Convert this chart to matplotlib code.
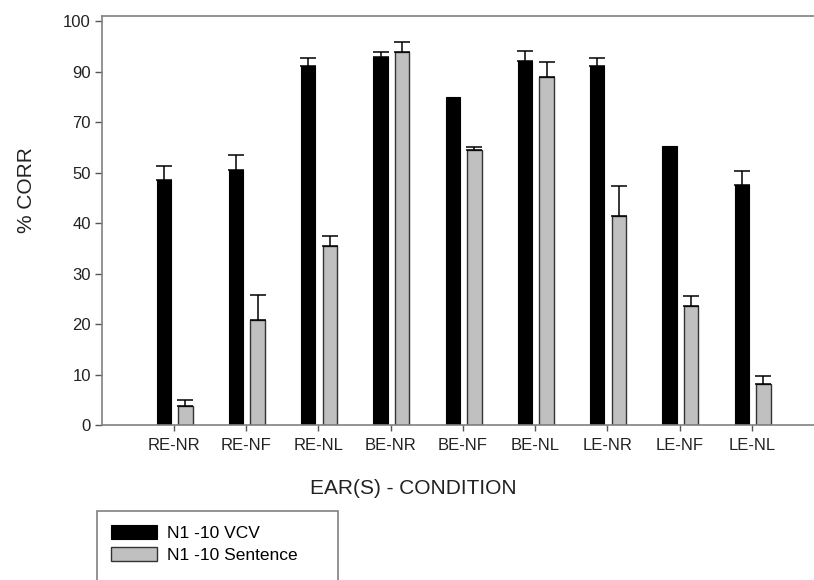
import numpy as np
import matplotlib
matplotlib.use('Agg')
import matplotlib.pyplot as plt
from matplotlib.patches import Rectangle

plt.rcParams['font.family'] = ['Liberation Sans', 'DejaVu Sans']

conditions = ['RE-NR', 'RE-NF', 'RE-NL', 'BE-NR', 'BE-NF', 'BE-NL', 'LE-NR', 'LE-NF', 'LE-NL']
vcv = [48.5, 51, 91, 92.8, 79.8, 92, 91, 60.6, 47.5]
vcv_err = [4, 6, 1.7, 1.1, 0, 2, 1.7, 0, 3.2]
sentence = [3.8, 20.8, 35.5, 93.9, 59, 88, 41.4, 23.6, 8.1]
sentence_err = [1.1, 5, 2, 1.9, 1.2, 3.9, 6, 2, 1.7]

# the y axis in the original is not linear: labels are evenly spaced
ytick_vals = [0, 10, 20, 30, 40, 50, 70, 90, 100]
ylabel_pos = [0, 1, 2, 3, 4, 5, 6, 7, 8]


def fwd(v):
    return np.interp(v, ytick_vals + [110], ylabel_pos + [9])


def inv(p):
    return np.interp(p, ylabel_pos + [9], ytick_vals + [110])


fig = plt.figure(figsize=(8.14, 5.8), dpi=100)
ax = fig.add_axes([102 / 814, 155 / 580, 712 / 814, 409 / 580])
ax.set_yscale('function', functions=(fwd, inv))

x = np.arange(len(conditions))
w = 0.2
ax.bar(x - 0.14, vcv, w, color='black', edgecolor='black', linewidth=0.8,
       label='N1 -10 VCV', zorder=2)
ax.bar(x + 0.16, sentence, w, color='#c0c0c0', edgecolor='#333333', linewidth=1.0,
       label='N1 -10 Sentence', zorder=2)

for i in range(len(conditions)):
    if vcv_err[i] > 0:
        ax.errorbar(x[i] - 0.14, vcv[i], yerr=[[0], [vcv_err[i]]], fmt='none',
                    ecolor='black', elinewidth=1.1, capsize=6, capthick=1.1, zorder=3)
    if sentence_err[i] > 0:
        ax.errorbar(x[i] + 0.16, sentence[i], yerr=[[0], [sentence_err[i]]], fmt='none',
                    ecolor='black', elinewidth=1.1, capsize=6, capthick=1.1, zorder=3)

ax.set_xlim(-0.995, 8.86)
ax.set_ylim(0, 101)
ax.set_yticks(ytick_vals)
ax.set_yticklabels([str(v) for v in ytick_vals])
ax.set_xticks(x)
ax.set_xticklabels(conditions)
ax.minorticks_off()

for side in ['left', 'top', 'bottom']:
    ax.spines[side].set_color('#808080')
    ax.spines[side].set_linewidth(1.2)
ax.spines['right'].set_visible(False)
ax.tick_params(axis='y', length=5, width=1, color='#555555', labelsize=12, pad=3, labelcolor='#222222')
ax.tick_params(axis='x', length=4, width=1, color='#555555', labelsize=12, pad=5, labelcolor='#222222')

ax.set_xlabel('EAR(S) - CONDITION', fontsize=15, color='#222222')
ax.xaxis.set_label_coords(0.437, -0.132)
ax.set_ylabel('% CORR', fontsize=15, color='#222222')
ax.yaxis.set_label_coords(-0.092, 0.575)

# legend box runs off the bottom of the picture, as in the original
fig.patches.append(Rectangle((97 / 814, -0.05), 241 / 814, 0.05 + 1 - 511 / 580,
                             transform=fig.transFigure, facecolor='white',
                             edgecolor='#808080', linewidth=1.2))
fig.legend(loc='upper left', bbox_to_anchor=(111 / 814, 1 - 525 / 580),
           fontsize=12.5, handlelength=2.65, handleheight=0.86,
           handletextpad=0.6, labelspacing=0.36, borderpad=0, frameon=False,
           borderaxespad=0)

fig.savefig('out.png', dpi=100)
